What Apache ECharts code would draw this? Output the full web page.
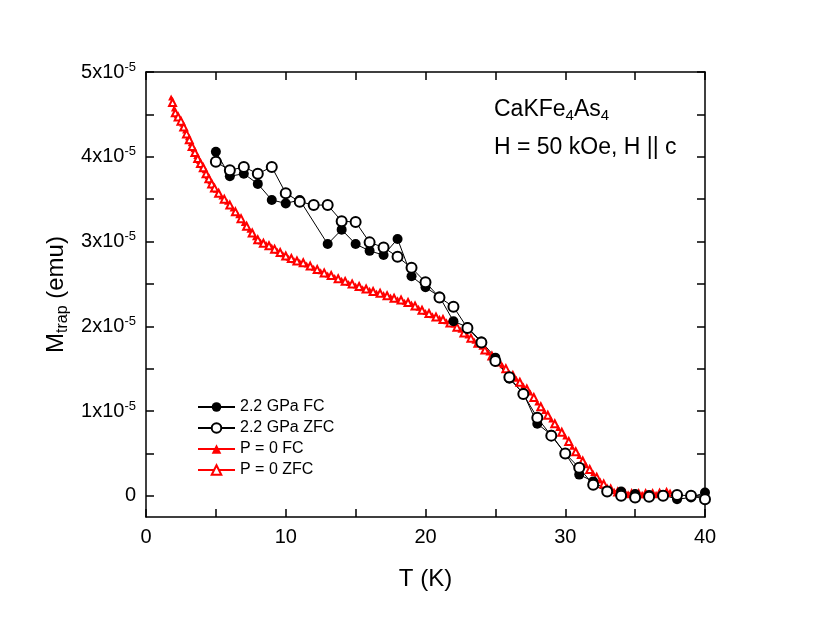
<!DOCTYPE html>
<html>
<head>
<meta charset="utf-8">
<script src="https://cdn.jsdelivr.net/npm/echarts@6/dist/echarts.min.js"></script>
<style>
  html, body { margin: 0; padding: 0; background: #fff; }
  #chart { width: 817px; height: 621px; }
</style>
</head>
<body>
<div id="chart"></div>
<script>
// values are in units of 1e-5 emu, T in K
const fc22 = [[5,4.06],[6,3.77],[7,3.80],[8,3.68],[9,3.49],[10,3.45],[11,3.49],[13,2.97],[14,3.14],[15,2.97],
  [16,2.89],[17,2.84],[18,3.03],[19,2.59],[20,2.46],[21,2.35],[22,2.06],[23,1.99],[24,1.82],[25,1.63],
  [26,1.38],[27,1.21],[28,0.85],[29,0.72],[30,0.50],[31,0.25],[32,0.17],[33,0.06],[34,0.05],[35,0.02],
  [36,0.01],[37,0.01],[38,-0.04],[39,-0.02],[40,0.04]];
const zfc22 = [[5,3.94],[6,3.84],[7,3.88],[8,3.80],[9,3.88],[10,3.57],[11,3.47],[12,3.43],[13,3.43],[14,3.24],
  [15,3.23],[16,2.99],[17,2.93],[18,2.82],[19,2.69],[20,2.52],[21,2.34],[22,2.23],[23,1.98],[24,1.81],
  [25,1.59],[26,1.40],[27,1.20],[28,0.92],[29,0.71],[30,0.50],[31,0.33],[32,0.13],[33,0.05],[34,0.0],
  [35,-0.02],[36,-0.01],[37,0.0],[38,0.01],[39,0.0],[40,-0.04]];
const fc0 = [[1.8,4.70],[2.0,4.57],[2.2,4.49],[2.4,4.46],[2.6,4.39],[2.8,4.31],[3.0,4.23],[3.2,4.16],[3.4,4.09],
  [3.6,4.01],[3.8,3.95],[4.0,3.90],[4.2,3.84],[4.4,3.77],[4.6,3.71],[4.8,3.66],[5.0,3.61],[5.4,3.53],[5.8,3.47],
  [6.2,3.39],[6.6,3.31],[7.0,3.22],[7.4,3.14],[7.8,3.05],[8.2,3.00],[8.6,2.97],[9.0,2.94],[9.4,2.89],[9.8,2.85],
  [10.2,2.81],[10.6,2.78],[11.0,2.76],[11.5,2.73],[12.0,2.69],[12.5,2.65],[13.0,2.61],[13.5,2.58],[14.0,2.55],
  [14.5,2.51],[15.0,2.48],[15.5,2.45],[16.0,2.43],[16.5,2.40],[17.0,2.38],[17.5,2.35],[18.0,2.32],[18.5,2.29],
  [19.0,2.27],[19.5,2.22],[20.0,2.17],[20.5,2.13],[21.0,2.10],[21.5,2.06],[22.0,2.02],[22.5,1.96],[23.0,1.89],
  [23.5,1.83],[24.0,1.76],[24.5,1.69],[25.0,1.61],[25.5,1.54],[26.0,1.45],[26.5,1.38],[27.0,1.30],[27.5,1.22],
  [28.0,1.10],[28.5,1.00],[29.0,0.90],[29.5,0.80],[30.0,0.70],[30.5,0.58],[31.0,0.47],[31.5,0.36],[32.0,0.27],
  [32.5,0.18],[33.0,0.11],[33.5,0.06],[34.0,0.035],[34.5,0.03],[35.0,0.025],[35.5,0.025],[36.0,0.025],
  [36.5,0.025],[37.0,0.03],[37.5,0.05]];
const zfc0 = [[1.9,4.64],[2.1,4.52],[2.3,4.47],[2.5,4.42],[2.7,4.35],[2.9,4.27],[3.1,4.20],[3.3,4.12],[3.5,4.05],
  [3.7,3.98],[3.9,3.92],[4.1,3.87],[4.3,3.80],[4.5,3.74],[4.7,3.68],[4.9,3.63],[5.2,3.57],[5.6,3.50],[6.0,3.43],
  [6.4,3.35],[6.8,3.27],[7.2,3.18],[7.6,3.10],[8.0,3.02],[8.4,2.98],[8.8,2.95],[9.2,2.91],[9.6,2.87],[10.0,2.83],
  [10.4,2.80],[10.8,2.77],[11.25,2.75],[11.75,2.71],[12.25,2.67],[12.75,2.63],[13.25,2.60],[13.75,2.56],
  [14.25,2.53],[14.75,2.50],[15.25,2.47],[15.75,2.44],[16.25,2.41],[16.75,2.39],[17.25,2.36],[17.75,2.33],
  [18.25,2.31],[18.75,2.28],[19.25,2.24],[19.75,2.19],[20.25,2.15],[20.75,2.11],[21.25,2.08],[21.75,2.04],
  [22.25,1.99],[22.75,1.92],[23.25,1.86],[23.75,1.80],[24.25,1.72],[24.75,1.65],[25.25,1.58],[25.75,1.50],
  [26.25,1.42],[26.75,1.34],[27.25,1.26],[27.75,1.16],[28.25,1.05],[28.75,0.95],[29.25,0.85],[29.75,0.75],
  [30.25,0.64],[30.75,0.52],[31.25,0.41],[31.75,0.31],[32.25,0.22],[32.75,0.14],[33.25,0.08],[33.75,0.045],
  [34.25,0.03],[34.75,0.025],[35.25,0.025],[35.75,0.025],[36.25,0.025],[36.75,0.03],[37.25,0.04]];

const xTicks = [0, 5, 10, 15, 20, 25, 30, 35, 40];
const xLabels = [0, 10, 20, 30, 40];
const yTicks = [0, 0.5, 1, 1.5, 2, 2.5, 3, 3.5, 4, 4.5, 5];
const yLabels = [0, 1, 2, 3, 4, 5];

const font = '"Liberation Sans", Arial, sans-serif';
const black = '#000';
const red = '#ff0000';

let eChart = echarts.init(document.getElementById('chart'));

function frameAxis(pos, min, max, ticks, labels, isX){
  return {
    type: 'value',
    position: pos,
    min: min,
    max: max,
    axisLine: { show: true, onZero: false, lineStyle: { color: black, width: 1.5 } },
    axisTick: { show: true, inside: true, length: 8, customValues: ticks, lineStyle: { color: black, width: 1.5 } },
    axisLabel: labels ? {
      show: true,
      customValues: labels,
      margin: 10,
      color: black,
      fontFamily: font,
      fontSize: 20,
      formatter: isX ? '{value}' : function(v){
        if (v === 0) return '{m|0}';
        return '{m|' + v + 'x10}{s|-5}';
      },
      rich: {
        m: { fontFamily: font, fontSize: 20, color: black },
        s: { fontFamily: font, fontSize: 13, color: black, padding: [0, 0, 10, 0] }
      }
    } : { show: false },
    splitLine: { show: false }
  };
}

let xBottom = frameAxis('bottom', 0, 40, xTicks, xLabels, true);
xBottom.name = 'T (K)';
xBottom.nameLocation = 'middle';
xBottom.nameGap = 50;
xBottom.nameTextStyle = { fontFamily: font, fontSize: 24, color: black };

let yLeft = frameAxis('left', -0.25, 5, yTicks, yLabels, false);
yLeft.name = '{a|M}{b|trap}{a| (emu)}';
yLeft.nameLocation = 'middle';
yLeft.nameGap = 62;
yLeft.nameTextStyle = {
  color: black,
  rich: {
    a: { fontFamily: font, fontSize: 24, color: black },
    b: { fontFamily: font, fontSize: 16, color: black, padding: [12, 0, 0, 0] }
  }
};

let option = {
  backgroundColor: '#fff',
  animation: false,
  grid: { left: 146, top: 72, width: 559, height: 445, containLabel: false },
  xAxis: [xBottom, frameAxis('top', 0, 40, xTicks, null, true)],
  yAxis: [yLeft, frameAxis('right', -0.25, 5, yTicks, null, false)],
  legend: {
    orient: 'vertical',
    left: 192,
    top: 394,
    itemWidth: 37,
    itemHeight: 12,
    itemGap: 5,
    textStyle: { fontFamily: font, fontSize: 16, color: black },
    data: ['2.2 GPa FC', '2.2 GPa ZFC', 'P = 0 FC', 'P = 0 ZFC']
  },
  graphic: [
    {
      type: 'text',
      left: 494,
      top: 98,
      style: {
        text: '{a|CaKFe}{b|4}{a|As}{b|4}',
        rich: {
          a: { fontFamily: font, fontSize: 23, fill: black },
          b: { fontFamily: font, fontSize: 15, fill: black, padding: [12, 0, 0, 0] }
        }
      }
    },
    {
      type: 'text',
      left: 494,
      top: 136,
      style: { text: 'H = 50 kOe, H || c', font: '23px ' + font, fill: black }
    }
  ],
  series: [
    {
      name: 'P = 0 FC',
      type: 'line',
      data: fc0,
      symbol: 'triangle',
      symbolSize: 6,
      lineStyle: { color: red, width: 1 },
      itemStyle: { color: red }
    },
    {
      name: 'P = 0 ZFC',
      type: 'line',
      data: zfc0,
      symbol: 'emptyTriangle',
      symbolSize: 7,
      lineStyle: { color: red, width: 1 },
      itemStyle: { color: red, borderWidth: 1 }
    },
    {
      name: '2.2 GPa FC',
      type: 'line',
      data: fc22,
      symbol: 'circle',
      symbolSize: 10,
      lineStyle: { color: black, width: 1 },
      itemStyle: { color: black }
    },
    {
      name: '2.2 GPa ZFC',
      type: 'line',
      data: zfc22,
      symbol: 'emptyCircle',
      symbolSize: 10,
      lineStyle: { color: black, width: 1 },
      itemStyle: { color: black, borderWidth: 1.2 }
    }
  ]
};
eChart.setOption(option);
</script>
</body>
</html>
